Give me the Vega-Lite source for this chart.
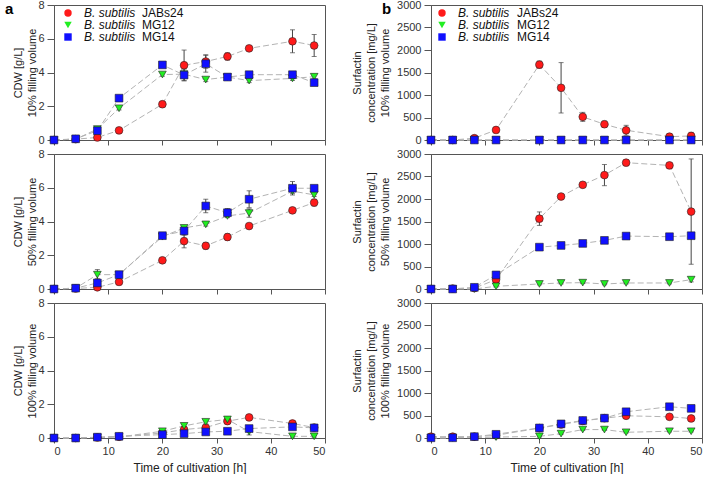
{
"$schema": "https://vega.github.io/schema/vega-lite/v6.json",
"background": "white",
"padding": {"left": 4, "top": -2, "right": 4, "bottom": 0},
"config": {
  "font": "Liberation Sans",
  "view": {"stroke": "#555", "strokeWidth": 1},
  "axis": {"grid": false, "domainColor": "#555", "tickColor": "#555", "labelColor": "#333", "titleColor": "#222", "labelFont": "Liberation Sans", "titleFont": "Liberation Sans", "labelFontSize": 11, "titleFontSize": 11, "titleFontWeight": "normal", "titleLineHeight": 14},
  "legend": {"labelFont": "Liberation Sans"},
  "point": {"opacity": 1}
},
"datasets": {"d": [
{"p":"C10","s":"JABs24","t":0,"v":0,"e":0.05},{"p":"C10","s":"JABs24","t":4,"v":0.05,"e":0.05},{"p":"C10","s":"JABs24","t":8,"v":0.15,"e":0.06},{"p":"C10","s":"JABs24","t":12,"v":0.57,"e":0.08},{"p":"C10","s":"JABs24","t":20,"v":2.12,"e":0.12},{"p":"C10","s":"JABs24","t":24,"v":4.43,"e":0.9},{"p":"C10","s":"JABs24","t":28,"v":4.65,"e":0.4},{"p":"C10","s":"JABs24","t":32,"v":4.95,"e":0.22},{"p":"C10","s":"JABs24","t":36,"v":5.43,"e":0.1},{"p":"C10","s":"JABs24","t":44,"v":5.85,"e":0.68},{"p":"C10","s":"JABs24","t":48,"v":5.6,"e":0.65},
{"p":"C10","s":"MG12","t":0,"v":0,"e":0.03},{"p":"C10","s":"MG12","t":4,"v":0.05,"e":0.03},{"p":"C10","s":"MG12","t":8,"v":0.65,"e":0.1},{"p":"C10","s":"MG12","t":12,"v":1.88,"e":0.1},{"p":"C10","s":"MG12","t":20,"v":3.88,"e":0.1},{"p":"C10","s":"MG12","t":24,"v":3.9,"e":0.1},{"p":"C10","s":"MG12","t":28,"v":3.58,"e":0.12},{"p":"C10","s":"MG12","t":32,"v":3.73,"e":0.1},{"p":"C10","s":"MG12","t":36,"v":3.52,"e":0.12},{"p":"C10","s":"MG12","t":44,"v":3.65,"e":0.12},{"p":"C10","s":"MG12","t":48,"v":3.75,"e":0.12},
{"p":"C10","s":"MG14","t":0,"v":0,"e":0.03},{"p":"C10","s":"MG14","t":4,"v":0.07,"e":0.05},{"p":"C10","s":"MG14","t":8,"v":0.55,"e":0.1},{"p":"C10","s":"MG14","t":12,"v":2.48,"e":0.12},{"p":"C10","s":"MG14","t":20,"v":4.45,"e":0.12},{"p":"C10","s":"MG14","t":24,"v":3.85,"e":0.35},{"p":"C10","s":"MG14","t":28,"v":4.52,"e":0.5},{"p":"C10","s":"MG14","t":32,"v":3.73,"e":0.1},{"p":"C10","s":"MG14","t":36,"v":3.87,"e":0.12},{"p":"C10","s":"MG14","t":44,"v":3.87,"e":0.12},{"p":"C10","s":"MG14","t":48,"v":3.4,"e":0.1},
{"p":"S10","s":"JABs24","t":0,"v":0,"e":10},{"p":"S10","s":"JABs24","t":4,"v":0,"e":10},{"p":"S10","s":"JABs24","t":8,"v":40,"e":20},{"p":"S10","s":"JABs24","t":12,"v":223,"e":30},{"p":"S10","s":"JABs24","t":20,"v":1675,"e":80},{"p":"S10","s":"JABs24","t":24,"v":1160,"e":560},{"p":"S10","s":"JABs24","t":28,"v":514,"e":100},{"p":"S10","s":"JABs24","t":32,"v":350,"e":70},{"p":"S10","s":"JABs24","t":36,"v":216,"e":110},{"p":"S10","s":"JABs24","t":44,"v":74,"e":70},{"p":"S10","s":"JABs24","t":48,"v":90,"e":80},
{"p":"S10","s":"MG12","t":0,"v":0,"e":5},{"p":"S10","s":"MG12","t":4,"v":0,"e":5},{"p":"S10","s":"MG12","t":8,"v":0,"e":5},{"p":"S10","s":"MG12","t":12,"v":0,"e":5},{"p":"S10","s":"MG12","t":20,"v":0,"e":5},{"p":"S10","s":"MG12","t":24,"v":0,"e":5},{"p":"S10","s":"MG12","t":28,"v":0,"e":5},{"p":"S10","s":"MG12","t":32,"v":0,"e":5},{"p":"S10","s":"MG12","t":36,"v":0,"e":5},{"p":"S10","s":"MG12","t":44,"v":0,"e":5},{"p":"S10","s":"MG12","t":48,"v":0,"e":5},
{"p":"S10","s":"MG14","t":0,"v":0,"e":5},{"p":"S10","s":"MG14","t":4,"v":0,"e":5},{"p":"S10","s":"MG14","t":8,"v":0,"e":5},{"p":"S10","s":"MG14","t":12,"v":0,"e":5},{"p":"S10","s":"MG14","t":20,"v":0,"e":5},{"p":"S10","s":"MG14","t":24,"v":0,"e":5},{"p":"S10","s":"MG14","t":28,"v":0,"e":5},{"p":"S10","s":"MG14","t":32,"v":0,"e":5},{"p":"S10","s":"MG14","t":36,"v":0,"e":5},{"p":"S10","s":"MG14","t":44,"v":0,"e":5},{"p":"S10","s":"MG14","t":48,"v":0,"e":5},
{"p":"C50","s":"JABs24","t":0,"v":0,"e":0.03},{"p":"C50","s":"JABs24","t":4,"v":0.03,"e":0.03},{"p":"C50","s":"JABs24","t":8,"v":0.1,"e":0.1},{"p":"C50","s":"JABs24","t":12,"v":0.42,"e":0.1},{"p":"C50","s":"JABs24","t":20,"v":1.7,"e":0.1},{"p":"C50","s":"JABs24","t":24,"v":2.84,"e":0.4},{"p":"C50","s":"JABs24","t":28,"v":2.56,"e":0.2},{"p":"C50","s":"JABs24","t":32,"v":3.08,"e":0.2},{"p":"C50","s":"JABs24","t":36,"v":3.73,"e":0.1},{"p":"C50","s":"JABs24","t":44,"v":4.66,"e":0.15},{"p":"C50","s":"JABs24","t":48,"v":5.12,"e":0.2},
{"p":"C50","s":"MG12","t":0,"v":0,"e":0.03},{"p":"C50","s":"MG12","t":4,"v":0.05,"e":0.03},{"p":"C50","s":"MG12","t":8,"v":0.85,"e":0.3},{"p":"C50","s":"MG12","t":12,"v":0.85,"e":0.1},{"p":"C50","s":"MG12","t":20,"v":3.1,"e":0.1},{"p":"C50","s":"MG12","t":24,"v":3.62,"e":0.1},{"p":"C50","s":"MG12","t":28,"v":3.83,"e":0.1},{"p":"C50","s":"MG12","t":32,"v":4.33,"e":0.1},{"p":"C50","s":"MG12","t":36,"v":4.5,"e":0.25},{"p":"C50","s":"MG12","t":44,"v":5.8,"e":0.15},{"p":"C50","s":"MG12","t":48,"v":5.58,"e":0.1},
{"p":"C50","s":"MG14","t":0,"v":0,"e":0.03},{"p":"C50","s":"MG14","t":4,"v":0.05,"e":0.05},{"p":"C50","s":"MG14","t":8,"v":0.36,"e":0.25},{"p":"C50","s":"MG14","t":12,"v":0.85,"e":0.1},{"p":"C50","s":"MG14","t":20,"v":3.16,"e":0.1},{"p":"C50","s":"MG14","t":24,"v":3.44,"e":0.25},{"p":"C50","s":"MG14","t":28,"v":4.92,"e":0.4},{"p":"C50","s":"MG14","t":32,"v":4.52,"e":0.25},{"p":"C50","s":"MG14","t":36,"v":5.32,"e":0.5},{"p":"C50","s":"MG14","t":44,"v":5.97,"e":0.4},{"p":"C50","s":"MG14","t":48,"v":5.97,"e":0.15},
{"p":"S50","s":"JABs24","t":0,"v":0,"e":10},{"p":"S50","s":"JABs24","t":4,"v":10,"e":10},{"p":"S50","s":"JABs24","t":8,"v":20,"e":15},{"p":"S50","s":"JABs24","t":12,"v":208,"e":50},{"p":"S50","s":"JABs24","t":20,"v":1563,"e":150},{"p":"S50","s":"JABs24","t":24,"v":2055,"e":30},{"p":"S50","s":"JABs24","t":28,"v":2315,"e":60},{"p":"S50","s":"JABs24","t":32,"v":2531,"e":235},{"p":"S50","s":"JABs24","t":36,"v":2807,"e":60},{"p":"S50","s":"JABs24","t":44,"v":2747,"e":30},{"p":"S50","s":"JABs24","t":48,"v":1720,"e":1170},
{"p":"S50","s":"MG12","t":0,"v":0,"e":5},{"p":"S50","s":"MG12","t":4,"v":0,"e":5},{"p":"S50","s":"MG12","t":8,"v":0,"e":5},{"p":"S50","s":"MG12","t":12,"v":60,"e":15},{"p":"S50","s":"MG12","t":20,"v":112,"e":20},{"p":"S50","s":"MG12","t":24,"v":134,"e":20},{"p":"S50","s":"MG12","t":28,"v":141,"e":20},{"p":"S50","s":"MG12","t":32,"v":112,"e":20},{"p":"S50","s":"MG12","t":36,"v":134,"e":20},{"p":"S50","s":"MG12","t":44,"v":134,"e":20},{"p":"S50","s":"MG12","t":48,"v":208,"e":50},
{"p":"S50","s":"MG14","t":0,"v":0,"e":5},{"p":"S50","s":"MG14","t":4,"v":0,"e":5},{"p":"S50","s":"MG14","t":8,"v":37,"e":20},{"p":"S50","s":"MG14","t":12,"v":313,"e":40},{"p":"S50","s":"MG14","t":20,"v":930,"e":40},{"p":"S50","s":"MG14","t":24,"v":968,"e":40},{"p":"S50","s":"MG14","t":28,"v":1013,"e":30},{"p":"S50","s":"MG14","t":32,"v":1080,"e":40},{"p":"S50","s":"MG14","t":36,"v":1176,"e":30},{"p":"S50","s":"MG14","t":44,"v":1162,"e":30},{"p":"S50","s":"MG14","t":48,"v":1184,"e":30},
{"p":"C100","s":"JABs24","t":0,"v":0,"e":0.03},{"p":"C100","s":"JABs24","t":4,"v":0,"e":0.03},{"p":"C100","s":"JABs24","t":8,"v":0.03,"e":0.03},{"p":"C100","s":"JABs24","t":12,"v":0.07,"e":0.05},{"p":"C100","s":"JABs24","t":20,"v":0.3,"e":0.05},{"p":"C100","s":"JABs24","t":24,"v":0.5,"e":0.1},{"p":"C100","s":"JABs24","t":28,"v":0.62,"e":0.1},{"p":"C100","s":"JABs24","t":32,"v":1.0,"e":0.1},{"p":"C100","s":"JABs24","t":36,"v":1.22,"e":0.08},{"p":"C100","s":"JABs24","t":44,"v":0.86,"e":0.08},{"p":"C100","s":"JABs24","t":48,"v":0.62,"e":0.06},
{"p":"C100","s":"MG12","t":0,"v":0,"e":0.03},{"p":"C100","s":"MG12","t":4,"v":0,"e":0.03},{"p":"C100","s":"MG12","t":8,"v":0.03,"e":0.03},{"p":"C100","s":"MG12","t":12,"v":0.06,"e":0.05},{"p":"C100","s":"MG12","t":20,"v":0.4,"e":0.06},{"p":"C100","s":"MG12","t":24,"v":0.72,"e":0.08},{"p":"C100","s":"MG12","t":28,"v":0.96,"e":0.08},{"p":"C100","s":"MG12","t":32,"v":1.1,"e":0.1},{"p":"C100","s":"MG12","t":36,"v":0.38,"e":0.2},{"p":"C100","s":"MG12","t":44,"v":0.1,"e":0.05},{"p":"C100","s":"MG12","t":48,"v":0.1,"e":0.05},
{"p":"C100","s":"MG14","t":0,"v":0,"e":0.03},{"p":"C100","s":"MG14","t":4,"v":0,"e":0.03},{"p":"C100","s":"MG14","t":8,"v":0.05,"e":0.03},{"p":"C100","s":"MG14","t":12,"v":0.1,"e":0.05},{"p":"C100","s":"MG14","t":20,"v":0.2,"e":0.05},{"p":"C100","s":"MG14","t":24,"v":0.26,"e":0.06},{"p":"C100","s":"MG14","t":28,"v":0.36,"e":0.06},{"p":"C100","s":"MG14","t":32,"v":0.4,"e":0.08},{"p":"C100","s":"MG14","t":36,"v":0.56,"e":0.1},{"p":"C100","s":"MG14","t":44,"v":0.66,"e":0.08},{"p":"C100","s":"MG14","t":48,"v":0.6,"e":0.06},
{"p":"S100","s":"JABs24","t":0,"v":30,"e":10},{"p":"S100","s":"JABs24","t":4,"v":30,"e":10},{"p":"S100","s":"JABs24","t":8,"v":30,"e":10},{"p":"S100","s":"JABs24","t":12,"v":60,"e":15},{"p":"S100","s":"JABs24","t":20,"v":220,"e":20},{"p":"S100","s":"JABs24","t":24,"v":300,"e":20},{"p":"S100","s":"JABs24","t":28,"v":380,"e":20},{"p":"S100","s":"JABs24","t":32,"v":440,"e":20},{"p":"S100","s":"JABs24","t":36,"v":494,"e":20},{"p":"S100","s":"JABs24","t":44,"v":471,"e":20},{"p":"S100","s":"JABs24","t":48,"v":434,"e":20},
{"p":"S100","s":"MG12","t":0,"v":0,"e":5},{"p":"S100","s":"MG12","t":4,"v":0,"e":5},{"p":"S100","s":"MG12","t":8,"v":10,"e":5},{"p":"S100","s":"MG12","t":12,"v":20,"e":10},{"p":"S100","s":"MG12","t":20,"v":37,"e":15},{"p":"S100","s":"MG12","t":24,"v":97,"e":15},{"p":"S100","s":"MG12","t":28,"v":187,"e":15},{"p":"S100","s":"MG12","t":32,"v":187,"e":15},{"p":"S100","s":"MG12","t":36,"v":127,"e":15},{"p":"S100","s":"MG12","t":44,"v":150,"e":15},{"p":"S100","s":"MG12","t":48,"v":150,"e":15},
{"p":"S100","s":"MG14","t":0,"v":5,"e":5},{"p":"S100","s":"MG14","t":4,"v":5,"e":5},{"p":"S100","s":"MG14","t":8,"v":30,"e":10},{"p":"S100","s":"MG14","t":12,"v":82,"e":15},{"p":"S100","s":"MG14","t":20,"v":224,"e":30},{"p":"S100","s":"MG14","t":24,"v":314,"e":30},{"p":"S100","s":"MG14","t":28,"v":389,"e":20},{"p":"S100","s":"MG14","t":32,"v":441,"e":25},{"p":"S100","s":"MG14","t":36,"v":583,"e":30},{"p":"S100","s":"MG14","t":44,"v":695,"e":30},{"p":"S100","s":"MG14","t":48,"v":658,"e":30}
]},
"data": {"name": "d"},
"columns": 2,
"spacing": {"row": 14, "column": 106},
"bounds": "flush",
"resolve": {"scale": {"x": "independent", "y": "independent"}, "axis": {"x": "independent", "y": "independent"}, "legend": {"fill": "independent", "shape": "independent", "opacity": "independent"}},
"concat": [
{
 "width": 271, "height": 135,
 "title": {"text": "a", "anchor": "start", "frame": "group", "fontSize": 15, "fontWeight": "bold", "color": "#000", "dx": -49, "dy": 18, "offset": 0},
 "transform": [{"filter": "datum.p == 'C10'"}],
 "encoding": {
  "x": {"field": "t", "type": "quantitative", "scale": {"domain": [0, 50], "nice": false}, "axis": {"values": [0,10,20,30,40,50], "labels": false, "title": null, "tickSize": 5}},
  "y": {"field": "v", "type": "quantitative", "scale": {"domain": [0, 8], "nice": false, "zero": false}, "axis": {"values": [0,2,4,6,8], "format": "d", "title": ["CDW [g/L]", "10% filling volume"], "titlePadding": 0, "tickSize": 7, "labelPadding": 3}}
 },
 "layer": [
  {"mark": {"type": "line", "color": "#b3b3b3", "strokeDash": [6, 3], "strokeWidth": 1}, "encoding": {"detail": {"field": "s"}}},
  {"mark": {"type": "errorbar", "color": "#444", "ticks": true, "thickness": 1}, "encoding": {"yError": {"field": "e"}}},
  {"mark": {"type": "point", "filled": true, "size": 60, "opacity": 1, "stroke": "#222", "strokeWidth": 0.6},
   "encoding": {
    "fill": {"field": "s", "type": "nominal", "scale": {"range": ["#ff1a1a", "#22ee22", "#1010ff"]}, "legend": {"orient": "none", "legendX": 8, "legendY": 2, "title": null, "labelExpr": "'B. subtilis'", "labelFontStyle": "italic", "labelFontSize": 12, "labelColor": "#111", "symbolSize": 55, "symbolStrokeColor": "#222", "symbolStrokeWidth": 0.6, "symbolOpacity": 1, "labelOffset": 10, "rowPadding": 0, "padding": 0}},
    "shape": {"field": "s", "type": "nominal", "scale": {"range": ["circle", "triangle-down", "square"]}, "legend": {"orient": "none", "legendX": 8, "legendY": 2, "title": null, "labelExpr": "'B. subtilis'", "labelFontStyle": "italic", "labelFontSize": 12, "labelColor": "#111", "symbolSize": 55, "symbolStrokeColor": "#222", "symbolStrokeWidth": 0.6, "symbolOpacity": 1, "labelOffset": 10, "rowPadding": 0, "padding": 0}},
    "opacity": {"field": "s", "type": "ordinal", "scale": {"domain": ["JABs24", "MG12", "MG14"], "range": [1, 1, 1]}, "legend": {"orient": "none", "legendX": 76, "legendY": 2, "title": null, "labelFontSize": 12, "labelColor": "#111", "symbolSize": 0, "symbolFillColor": "transparent", "symbolStrokeColor": "transparent", "symbolStrokeWidth": 0, "labelOffset": 0, "rowPadding": 0, "padding": 0}}
   }}
 ]
},
{
 "width": 271, "height": 135,
 "title": {"text": "b", "anchor": "start", "frame": "group", "fontSize": 15, "fontWeight": "bold", "color": "#000", "dx": -49, "dy": 18, "offset": 0},
 "transform": [{"filter": "datum.p == 'S10'"}],
 "encoding": {
  "x": {"field": "t", "type": "quantitative", "scale": {"domain": [0, 50], "nice": false}, "axis": {"values": [0,10,20,30,40,50], "labels": false, "title": null, "tickSize": 5}},
  "y": {"field": "v", "type": "quantitative", "scale": {"domain": [0, 3000], "nice": false, "zero": false}, "axis": {"values": [0,500,1000,1500,2000,2500,3000], "format": "d", "title": ["Surfactin", "concentration [mg/L]", "10% filling volume"], "titlePadding": 6, "tickSize": 7, "labelPadding": 3}}
 },
 "layer": [
  {"mark": {"type": "line", "color": "#b3b3b3", "strokeDash": [6, 3], "strokeWidth": 1}, "encoding": {"detail": {"field": "s"}}},
  {"mark": {"type": "errorbar", "color": "#444", "ticks": true, "thickness": 1}, "encoding": {"yError": {"field": "e"}}},
  {"mark": {"type": "point", "filled": true, "size": 60, "opacity": 1, "stroke": "#222", "strokeWidth": 0.6},
   "encoding": {
    "fill": {"field": "s", "type": "nominal", "scale": {"range": ["#ff1a1a", "#22ee22", "#1010ff"]}, "legend": {"orient": "none", "legendX": 5, "legendY": 2, "title": null, "labelExpr": "'B. subtilis'", "labelFontStyle": "italic", "labelFontSize": 12, "labelColor": "#111", "symbolSize": 55, "symbolStrokeColor": "#222", "symbolStrokeWidth": 0.6, "symbolOpacity": 1, "labelOffset": 10, "rowPadding": 0, "padding": 0}},
    "shape": {"field": "s", "type": "nominal", "scale": {"range": ["circle", "triangle-down", "square"]}, "legend": {"orient": "none", "legendX": 5, "legendY": 2, "title": null, "labelExpr": "'B. subtilis'", "labelFontStyle": "italic", "labelFontSize": 12, "labelColor": "#111", "symbolSize": 55, "symbolStrokeColor": "#222", "symbolStrokeWidth": 0.6, "symbolOpacity": 1, "labelOffset": 10, "rowPadding": 0, "padding": 0}},
    "opacity": {"field": "s", "type": "ordinal", "scale": {"domain": ["JABs24", "MG12", "MG14"], "range": [1, 1, 1]}, "legend": {"orient": "none", "legendX": 74, "legendY": 2, "title": null, "labelFontSize": 12, "labelColor": "#111", "symbolSize": 0, "symbolFillColor": "transparent", "symbolStrokeColor": "transparent", "symbolStrokeWidth": 0, "labelOffset": 0, "rowPadding": 0, "padding": 0}}
   }}
 ]
},
{
 "width": 271, "height": 135,
 "transform": [{"filter": "datum.p == 'C50'"}],
 "encoding": {
  "x": {"field": "t", "type": "quantitative", "scale": {"domain": [0, 50], "nice": false}, "axis": {"values": [0,10,20,30,40,50], "labels": false, "title": null, "tickSize": 5}},
  "y": {"field": "v", "type": "quantitative", "scale": {"domain": [0, 8], "nice": false, "zero": false}, "axis": {"values": [0,2,4,6,8], "format": "d", "title": ["CDW [g/L]", "50% filling volume"], "titlePadding": 0, "tickSize": 7, "labelPadding": 3}}
 },
 "layer": [
  {"mark": {"type": "line", "color": "#b3b3b3", "strokeDash": [6, 3], "strokeWidth": 1}, "encoding": {"detail": {"field": "s"}}},
  {"mark": {"type": "errorbar", "color": "#444", "ticks": true, "thickness": 1}, "encoding": {"yError": {"field": "e"}}},
  {"mark": {"type": "point", "filled": true, "size": 60, "opacity": 1, "stroke": "#222", "strokeWidth": 0.6},
   "encoding": {
    "fill": {"field": "s", "type": "nominal", "scale": {"range": ["#ff1a1a", "#22ee22", "#1010ff"]}, "legend": null},
    "shape": {"field": "s", "type": "nominal", "scale": {"range": ["circle", "triangle-down", "square"]}, "legend": null}
   }}
 ]
},
{
 "width": 271, "height": 135,
 "transform": [{"filter": "datum.p == 'S50'"}],
 "encoding": {
  "x": {"field": "t", "type": "quantitative", "scale": {"domain": [0, 50], "nice": false}, "axis": {"values": [0,10,20,30,40,50], "labels": false, "title": null, "tickSize": 5}},
  "y": {"field": "v", "type": "quantitative", "scale": {"domain": [0, 3000], "nice": false, "zero": false}, "axis": {"values": [0,500,1000,1500,2000,2500,3000], "format": "d", "title": ["Surfactin", "concentration [mg/L]", "50% filling volume"], "titlePadding": 6, "tickSize": 7, "labelPadding": 3}}
 },
 "layer": [
  {"mark": {"type": "line", "color": "#b3b3b3", "strokeDash": [6, 3], "strokeWidth": 1}, "encoding": {"detail": {"field": "s"}}},
  {"mark": {"type": "errorbar", "color": "#444", "ticks": true, "thickness": 1}, "encoding": {"yError": {"field": "e"}}},
  {"mark": {"type": "point", "filled": true, "size": 60, "opacity": 1, "stroke": "#222", "strokeWidth": 0.6},
   "encoding": {
    "fill": {"field": "s", "type": "nominal", "scale": {"range": ["#ff1a1a", "#22ee22", "#1010ff"]}, "legend": null},
    "shape": {"field": "s", "type": "nominal", "scale": {"range": ["circle", "triangle-down", "square"]}, "legend": null}
   }}
 ]
},
{
 "width": 271, "height": 135,
 "transform": [{"filter": "datum.p == 'C100'"}],
 "encoding": {
  "x": {"field": "t", "type": "quantitative", "scale": {"domain": [0, 50], "nice": false}, "axis": {"values": [0,10,20,30,40,50], "title": "Time of cultivation [h]", "titleFontSize": 12, "titlePadding": 6, "tickSize": 5, "labelPadding": 2}},
  "y": {"field": "v", "type": "quantitative", "scale": {"domain": [0, 8], "nice": false, "zero": false}, "axis": {"values": [0,2,4,6,8], "format": "d", "title": ["CDW [g/L]", "100% filling volume"], "titlePadding": 0, "tickSize": 7, "labelPadding": 3}}
 },
 "layer": [
  {"mark": {"type": "line", "color": "#b3b3b3", "strokeDash": [6, 3], "strokeWidth": 1}, "encoding": {"detail": {"field": "s"}}},
  {"mark": {"type": "errorbar", "color": "#444", "ticks": true, "thickness": 1}, "encoding": {"yError": {"field": "e"}}},
  {"mark": {"type": "point", "filled": true, "size": 60, "opacity": 1, "stroke": "#222", "strokeWidth": 0.6},
   "encoding": {
    "fill": {"field": "s", "type": "nominal", "scale": {"range": ["#ff1a1a", "#22ee22", "#1010ff"]}, "legend": null},
    "shape": {"field": "s", "type": "nominal", "scale": {"range": ["circle", "triangle-down", "square"]}, "legend": null}
   }}
 ]
},
{
 "width": 271, "height": 135,
 "transform": [{"filter": "datum.p == 'S100'"}],
 "encoding": {
  "x": {"field": "t", "type": "quantitative", "scale": {"domain": [0, 50], "nice": false}, "axis": {"values": [0,10,20,30,40,50], "title": "Time of cultivation [h]", "titleFontSize": 12, "titlePadding": 6, "tickSize": 5, "labelPadding": 2}},
  "y": {"field": "v", "type": "quantitative", "scale": {"domain": [0, 3000], "nice": false, "zero": false}, "axis": {"values": [0,500,1000,1500,2000,2500,3000], "format": "d", "title": ["Surfactin", "concentration [mg/L]", "100% filling volume"], "titlePadding": 6, "tickSize": 7, "labelPadding": 3}}
 },
 "layer": [
  {"mark": {"type": "line", "color": "#b3b3b3", "strokeDash": [6, 3], "strokeWidth": 1}, "encoding": {"detail": {"field": "s"}}},
  {"mark": {"type": "errorbar", "color": "#444", "ticks": true, "thickness": 1}, "encoding": {"yError": {"field": "e"}}},
  {"mark": {"type": "point", "filled": true, "size": 60, "opacity": 1, "stroke": "#222", "strokeWidth": 0.6},
   "encoding": {
    "fill": {"field": "s", "type": "nominal", "scale": {"range": ["#ff1a1a", "#22ee22", "#1010ff"]}, "legend": null},
    "shape": {"field": "s", "type": "nominal", "scale": {"range": ["circle", "triangle-down", "square"]}, "legend": null}
   }}
 ]
}
]
}
